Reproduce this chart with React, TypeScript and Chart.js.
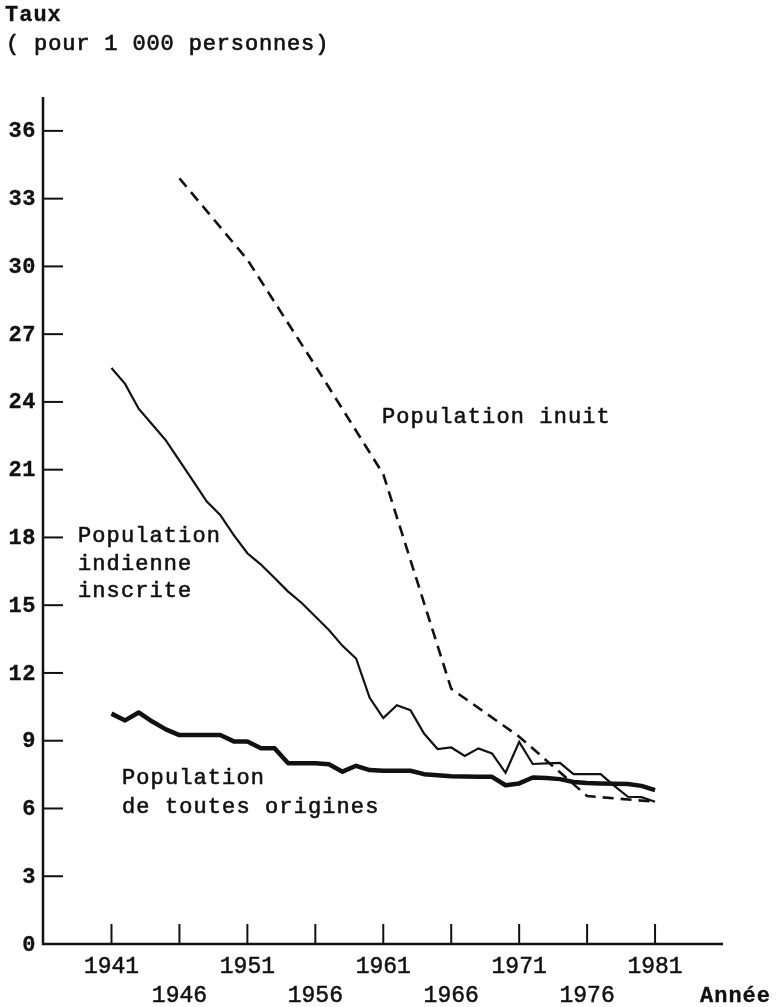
import { useEffect, useRef } from "react";
import { Chart, registerables } from "chart.js";

Chart.register(...registerables);

// ---- data ----
const YEARS = [
  1941, 1942, 1943, 1944, 1945, 1946, 1947, 1948, 1949, 1950,
  1951, 1952, 1953, 1954, 1955, 1956, 1957, 1958, 1959, 1960,
  1961, 1962, 1963, 1964, 1965, 1966, 1967, 1968, 1969, 1970,
  1971, 1972, 1973, 1974, 1975, 1976, 1977, 1978, 1979, 1980, 1981,
];

const INDIAN = [
  25.5, 24.8, 23.7, 23.0, 22.3, 21.4, 20.5, 19.6, 19.0, 18.1,
  17.3, 16.8, 16.2, 15.6, 15.1, 14.5, 13.9, 13.2, 12.64, 10.9,
  10.0, 10.57, 10.35, 9.32, 8.63, 8.7, 8.33, 8.66, 8.44, 7.58,
  8.95, 7.97, 8.0, 8.02, 7.52, 7.52, 7.52, 7.0, 6.52, 6.5, 6.3,
];

const ALL_ORIGINS = [
  10.2, 9.9, 10.25, 9.85, 9.5, 9.25, 9.25, 9.25, 9.25, 8.97,
  8.97, 8.67, 8.67, 8.0, 8.0, 8.0, 7.96, 7.63, 7.89, 7.7,
  7.67, 7.67, 7.67, 7.52, 7.47, 7.43, 7.42, 7.41, 7.4, 7.03,
  7.11, 7.37, 7.35, 7.3, 7.17, 7.13, 7.11, 7.1, 7.08, 7.0, 6.81,
];

const INUIT_YEARS = [1946, 1951, 1956, 1961, 1966, 1971, 1976, 1981];
const INUIT = [33.9, 30.3, 25.6, 20.8, 11.3, 9.18, 6.55, 6.3];

const Y_TICKS = [0, 3, 6, 9, 12, 15, 18, 21, 24, 27, 30, 33, 36];
const X_TICKS = [1941, 1946, 1951, 1956, 1961, 1966, 1971, 1976, 1981];

const TITLE_LINES = ["Taux", "( pour 1 000 personnes)"];
const X_TITLE = "Année";
const LABEL_INUIT = ["Population inuit"];
const LABEL_INDIAN = ["Population", "indienne", "inscrite"];
const LABEL_ALL = ["Population", "de toutes origines"];

const INK = "#111";
const MONO = '"Liberation Mono", "DejaVu Sans Mono", monospace';

function setText(ctx: CanvasRenderingContext2D, font: string, spacing: string) {
  ctx.font = font;
  (ctx as any).letterSpacing = spacing;
  ctx.fillStyle = INK;
  ctx.strokeStyle = INK;
}

function heavyText(ctx: CanvasRenderingContext2D, t: string, x: number, y: number, w = 0.6) {
  ctx.fillText(t, x, y);
  if (w > 0) {
    ctx.lineWidth = w;
    ctx.strokeText(t, x, y);
  }
}

const decorPlugin = {
  id: "decor",
  beforeDraw(chart: any) {
    const ctx = chart.ctx as CanvasRenderingContext2D;
    ctx.save();
    ctx.fillStyle = "#fff";
    ctx.fillRect(0, 0, chart.width, chart.height);
    ctx.restore();
  },
  afterDraw(chart: any) {
    const ctx = chart.ctx as CanvasRenderingContext2D;
    const xs = chart.scales.x;
    const ys = chart.scales.y;
    const area = chart.chartArea;
    ctx.save();

    // axes
    ctx.strokeStyle = INK;
    ctx.lineWidth = 2.5;
    ctx.lineCap = "butt";
    ctx.beginPath();
    ctx.moveTo(area.left, area.top);
    ctx.lineTo(area.left, area.bottom);
    ctx.lineTo(area.right, area.bottom);
    ctx.stroke();

    // y ticks (inside, to the right)
    ctx.lineWidth = 2;
    for (const v of Y_TICKS) {
      if (v === 0) continue;
      const y = ys.getPixelForValue(v);
      ctx.beginPath();
      ctx.moveTo(area.left, y);
      ctx.lineTo(area.left + 20, y);
      ctx.stroke();
    }
    // x ticks (inside, upward)
    for (const v of X_TICKS) {
      const x = xs.getPixelForValue(v);
      ctx.beginPath();
      ctx.moveTo(x, area.bottom);
      ctx.lineTo(x, area.bottom - 20);
      ctx.stroke();
    }

    // y tick labels
    setText(ctx, `bold 22px ${MONO}`, "0.5px");
    ctx.textAlign = "right";
    ctx.textBaseline = "middle";
    for (const v of Y_TICKS) {
      const y = ys.getPixelForValue(v);
      heavyText(ctx, String(v), area.left - 7, y + 1, 0.3);
    }

    // x tick labels, two staggered rows
    setText(ctx, `23px ${MONO}`, "0px");
    ctx.textAlign = "center";
    ctx.textBaseline = "alphabetic";
    X_TICKS.forEach((v, i) => {
      const x = xs.getPixelForValue(v);
      const base = area.bottom + (i % 2 === 0 ? 29 : 58);
      heavyText(ctx, String(v), x, base, 0.5);
    });
    setText(ctx, `bold 22px ${MONO}`, "1px");
    ctx.textAlign = "right";
    heavyText(ctx, X_TITLE, 771, area.bottom + 58, 0.3);

    // title
    ctx.textAlign = "left";
    setText(ctx, `bold 22px ${MONO}`, "1px");
    heavyText(ctx, TITLE_LINES[0], 5, 20.5, 0.3);
    setText(ctx, `22px ${MONO}`, "0.85px");
    heavyText(ctx, TITLE_LINES[1], 6, 50, 0.7);

    // series annotations
    setText(ctx, `22px ${MONO}`, "1.1px");
    LABEL_INUIT.forEach((t, i) => heavyText(ctx, t, 382, 423 + i * 28, 0.6));
    LABEL_INDIAN.forEach((t, i) => heavyText(ctx, t, 78, 542 + i * 27.5, 0.6));
    LABEL_ALL.forEach((t, i) => heavyText(ctx, t, 122, 784 + i * 29, 0.6));

    ctx.restore();
  },
};

export default function App() {
  const ref = useRef<HTMLCanvasElement | null>(null);

  useEffect(() => {
    if (!ref.current) return;
    const chart = new Chart(ref.current, {
      type: "line",
      data: {
        datasets: [
          {
            label: "Population indienne inscrite",
            data: YEARS.map((x, i) => ({ x, y: INDIAN[i] })),
            borderColor: INK,
            borderWidth: 2.2,
            pointRadius: 0,
            tension: 0,
          },
          {
            label: "Population de toutes origines",
            data: YEARS.map((x, i) => ({ x, y: ALL_ORIGINS[i] })),
            borderColor: INK,
            borderWidth: 4.5,
            pointRadius: 0,
            tension: 0,
            borderJoinStyle: "round",
          },
          {
            label: "Population inuit",
            data: INUIT_YEARS.map((x, i) => ({ x, y: INUIT[i] })),
            borderColor: INK,
            borderWidth: 2.6,
            borderDash: [11, 7],
            pointRadius: 0,
            tension: 0,
          },
        ],
      },
      options: {
        responsive: false,
        animation: false,
        events: [],
        layout: { padding: { top: 97, right: 54, bottom: 0, left: 0 } },
        plugins: { legend: { display: false }, tooltip: { enabled: false } },
        scales: {
          x: {
            type: "linear",
            min: 1935.96,
            max: 1986.0,
            grid: { display: false },
            border: { display: false },
            ticks: { display: false },
            afterFit: (s: any) => {
              s.height = 63;
            },
          },
          y: {
            type: "linear",
            min: 0,
            max: 37.5,
            grid: { display: false },
            border: { display: false },
            ticks: { display: false },
            afterFit: (s: any) => {
              s.width = 43;
            },
          },
        },
      },
      plugins: [decorPlugin],
    });
    return () => chart.destroy();
  }, []);

  return (
    <div style={{ position: "absolute", left: 0, top: 0, width: 777, height: 1007, background: "#fff" }}>
      <canvas ref={ref} width={777} height={1007} style={{ display: "block", width: 777, height: 1007 }} />
    </div>
  );
}
